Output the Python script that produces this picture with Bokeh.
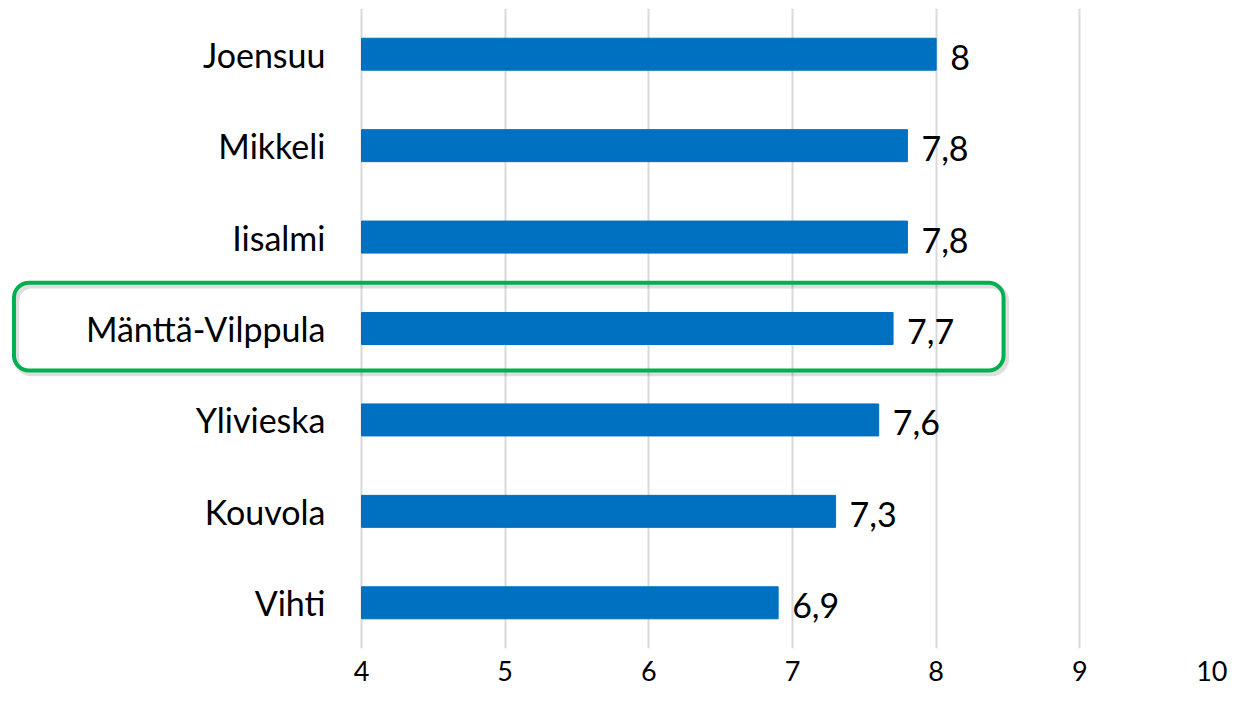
from bokeh.plotting import figure
from bokeh.models import FactorRange, Range1d, ColumnDataSource, BoxAnnotation, FixedTicker, LabelSet
from bokeh.core.properties import value
from bokeh.embed import file_html
from bokeh.resources import INLINE

cities = ["Joensuu", "Mikkeli", "Iisalmi", "Mänttä-Vilppula", "Ylivieska", "Kouvola", "Vihti"]
scores = [8.0, 7.8, 7.8, 7.7, 7.6, 7.3, 6.9]
x_ticks = [4, 5, 6, 7, 8, 9, 10]
highlight = "Mänttä-Vilppula"

FONT = "Lato"

def fmt(v):
    s = ("%.1f" % v).rstrip("0").rstrip(".")
    return s.replace(".", ",")

order = list(reversed(cities))
src = ColumnDataSource(dict(city=cities, score=scores, lab=[fmt(v) for v in scores],
                            base=[x_ticks[0]] * len(cities)))

W, H = 1227, 687
frame_left_px = 361      # where the axis start (4) sits
right_border = 4
frame_w = W - right_border
x_lo = (x_ticks[0] * frame_w - frame_left_px * x_ticks[-1]) / (frame_w - frame_left_px)

p = figure(width=W, height=H, output_backend="svg", toolbar_location=None,
           y_range=FactorRange(factors=order), x_range=Range1d(x_lo, x_ticks[-1]),
           min_border_left=0, min_border_right=right_border, min_border_top=8, min_border_bottom=39)
p.outline_line_color = None
p.background_fill_color = "white"
p.border_fill_color = "white"

p.hbar(y="city", left="base", right="score", height=0.35, source=src,
       fill_color="#0070C0", line_color="#0070C0")

cat_labels = LabelSet(x="base", y="city", text="city", source=src, x_offset=-36, y_offset=0,
                      text_font=value(FONT), text_font_size="34px", text_baseline="middle",
                      text_align="right", text_color="#000000")
p.add_layout(cat_labels)

val_labels = LabelSet(x="score", y="city", text="lab", source=src, x_offset=14, y_offset=-3,
                      text_font=value(FONT), text_font_size="34px", text_baseline="middle",
                      text_color="#000000")
p.add_layout(val_labels)

# highlight box (rounded) with a soft shadow
hi = order.index(highlight)
shadow = BoxAnnotation(left=1.60, right=8.49, bottom=hi + 0.005, top=hi + 0.965,
                       fill_alpha=0, line_color="#000000", line_alpha=0.13, line_width=5,
                       border_radius=15)
p.add_layout(shadow)
box = BoxAnnotation(left=1.581, right=8.469, bottom=hi + 0.04, top=hi + 1.0,
                    fill_alpha=0, line_color="#00B050", line_alpha=1.0, line_width=4,
                    border_radius=15)
p.add_layout(box)

p.xaxis.ticker = FixedTicker(ticks=x_ticks)
p.xaxis.axis_line_color = None
p.xaxis.major_tick_line_color = None
p.xaxis.minor_tick_line_color = None
p.xaxis.major_label_standoff = 6
p.xaxis.major_label_text_font = FONT
p.xaxis.major_label_text_font_size = "27px"
p.xaxis.major_label_text_color = "#000000"

p.yaxis.visible = False

p.xgrid.ticker = FixedTicker(ticks=x_ticks)
p.xgrid.grid_line_color = "#D9D9D9"
p.xgrid.grid_line_width = 2
p.ygrid.grid_line_color = None

open("out.html", "w").write(file_html(p, INLINE))
